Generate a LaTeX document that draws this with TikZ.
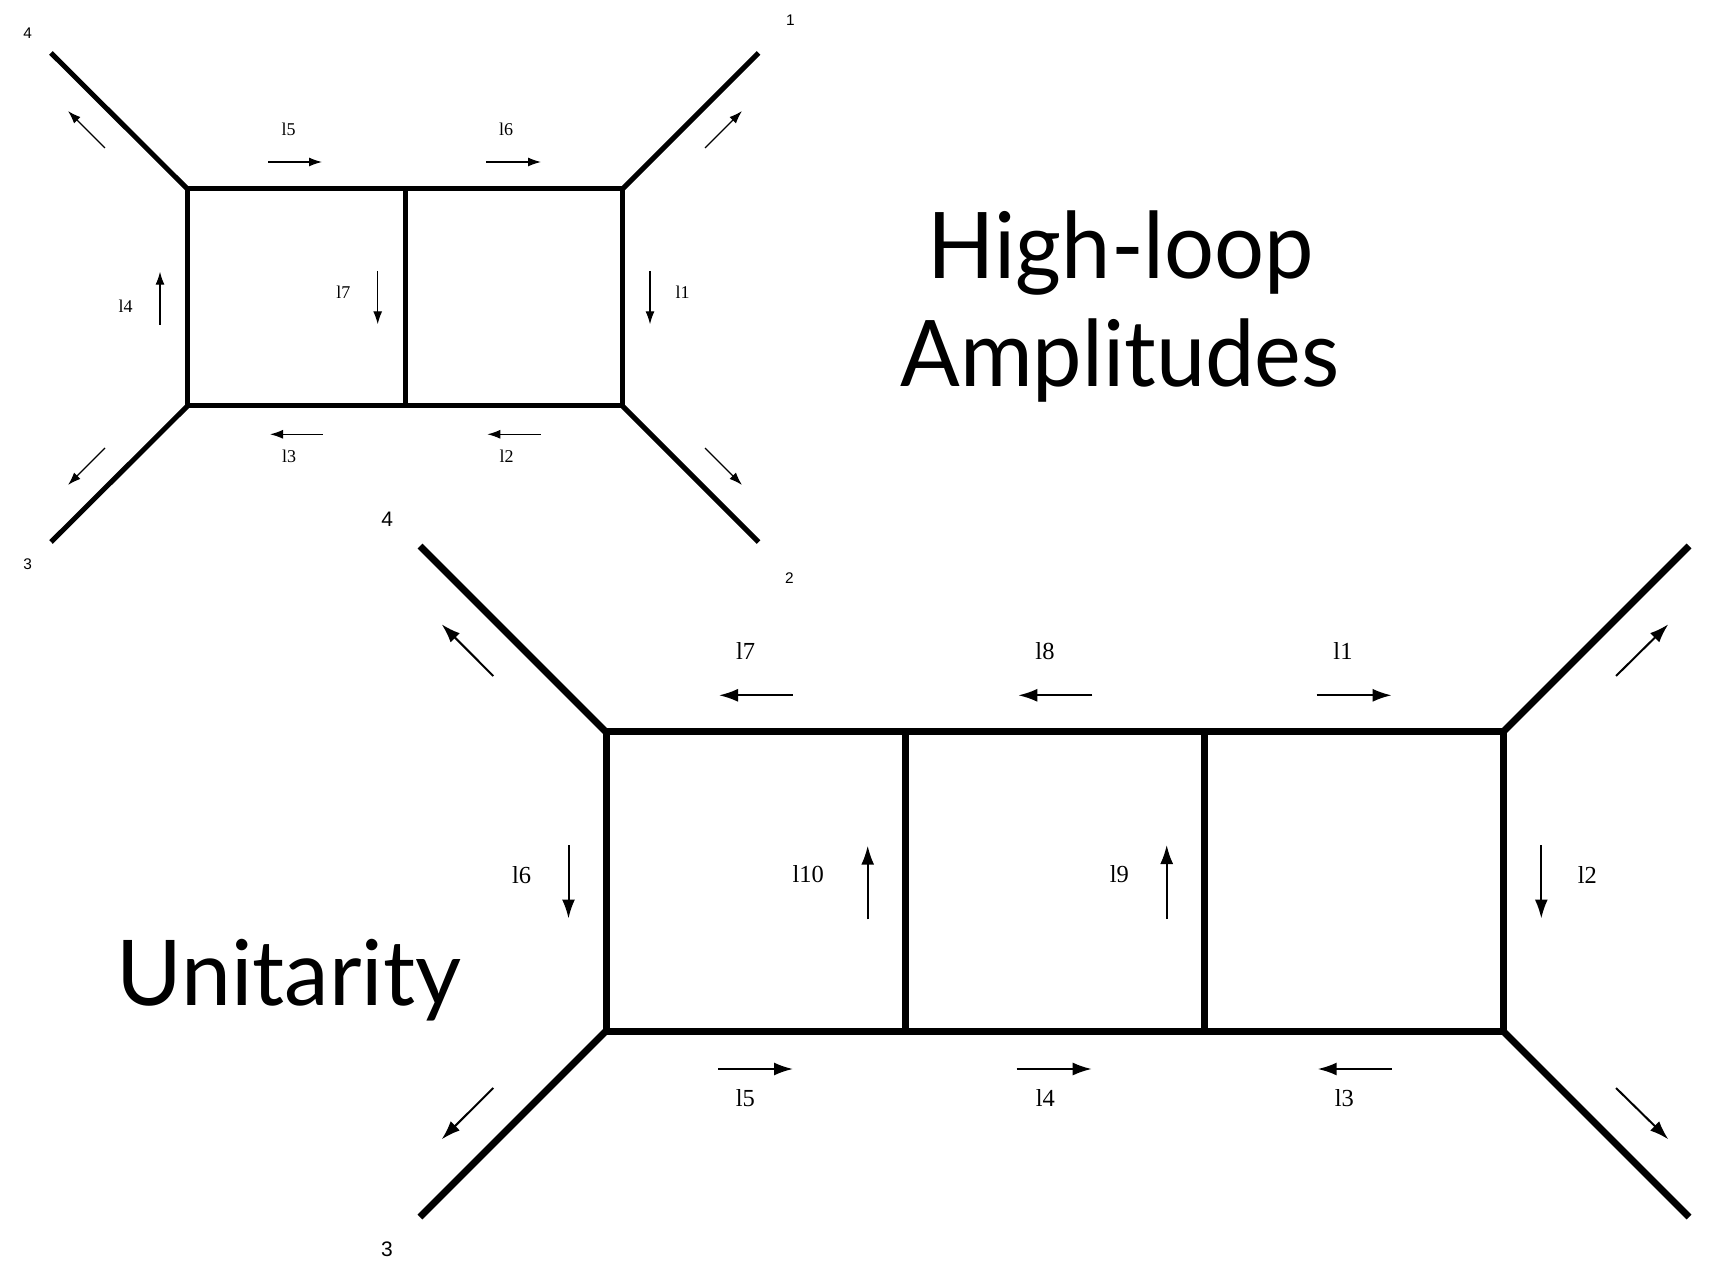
\documentclass[tikz,border=0pt]{standalone}
\usepackage{fontspec}
\setmainfont{Liberation Serif}
\newfontfamily\titlefont{Lato}
\newfontfamily\numfont{Liberation Sans}
\usetikzlibrary{arrows.meta}

\newcommand{\narrowtitle}[1]{\scalebox{0.96}[1]{#1}}

\tikzset{
  propsmall/.style={line width=2.5pt, line join=miter},
  propbig/.style={line width=3.5pt, line join=miter},
  momsmall/.style={-{Latex[length=6.5pt,width=4.5pt]}, line width=0.6pt},
  mombig/.style={-{Latex[length=9.5pt,width=6.5pt]}, line width=1pt},
  labsmall/.style={inner sep=0pt, font=\fontsize{9}{10}\selectfont},
  labbig/.style={inner sep=0pt, font=\fontsize{12.25}{14}\selectfont},
  legsmall/.style={inner sep=0pt, font=\numfont\fontsize{7.7}{9}\selectfont},
  legbig/.style={inner sep=0pt, font=\numfont\fontsize{10.5}{12}\selectfont},
  headline/.style={inner sep=0pt, anchor=base, font=\titlefont\fontsize{46}{54}\selectfont}
}

\begin{document}
\begin{tikzpicture}[x=0.5pt, y=-0.5pt]
  \useasboundingbox (0, 0) rectangle (1729, 1277);

  % two-loop box
  \coordinate (t1) at (187.5, 189);
  \coordinate (t2) at (405, 189);
  \coordinate (t3) at (622.5, 189);
  \coordinate (s1) at (187.5, 406);
  \coordinate (s2) at (405, 406);
  \coordinate (s3) at (622.5, 406);

  \coordinate (p4) at (51, 53);
  \coordinate (p1) at (758.5, 53);
  \coordinate (p3) at (51, 542);
  \coordinate (p2) at (758.5, 542);

  \node[legsmall] (n4) at (27.7, 33.3) {4};
  \node[legsmall] (n1) at (790.5, 20) {1};
  \node[legsmall] (n3) at (27.6, 564.6) {3};
  \node[legsmall] (n2) at (789.5, 577.8) {2};

  \draw[propsmall] (t1)
  -- (t3)
  -- (s3)
  -- (s1)
  -- cycle;
  \draw[propsmall] (t2)
  -- (s2);
  \draw[propsmall] (t1) -- (p4);
  \draw[propsmall] (t3) -- (p1);
  \draw[propsmall] (s1) -- (p3);
  \draw[propsmall] (s3) -- (p2);

  \draw[momsmall] (105, 148) -- (68, 111);
  \draw[momsmall] (705, 148) -- (742, 111);
  \draw[momsmall] (105, 448) -- (68, 485);
  \draw[momsmall] (705, 448) -- (742, 485);

  \draw[momsmall] (268, 162) -- (322, 162);
  \node[labsmall] (q5) at (288.7, 129) {l5};
  \draw[momsmall] (486, 162) -- (541, 162);
  \node[labsmall] (q6) at (506, 129) {l6};
  \draw[momsmall] (160, 325) -- (160, 271.7);
  \node[labsmall] (q4) at (125.7, 306.7) {l4};
  \draw[momsmall] (377.7, 271) -- (377.7, 324.3);
  \node[labsmall] (q7) at (343.3, 292.3) {l7};
  \draw[momsmall] (650, 271) -- (650, 324.3);
  \node[labsmall] (q1) at (682.7, 292.3) {l1};
  \draw[momsmall] (322.7, 434.3) -- (270, 434.3);
  \node[labsmall] (q3) at (289, 456) {l3};
  \draw[momsmall] (540.7, 434.3) -- (487.3, 434.3);
  \node[labsmall] (q2) at (506.7, 456) {l2};

  % three-loop ladder
  \coordinate (a1) at (606, 732);
  \coordinate (a2) at (905, 732);
  \coordinate (a3) at (1204, 732);
  \coordinate (a4) at (1503, 732);
  \coordinate (b1) at (606, 1031);
  \coordinate (b2) at (905, 1031);
  \coordinate (b3) at (1204, 1031);
  \coordinate (b4) at (1503, 1031);

  \coordinate (r4) at (420, 546);
  \coordinate (r1) at (1689, 546);
  \coordinate (r3) at (420, 1217);
  \coordinate (r2) at (1689, 1217);

  \node[legbig] (m4) at (387.3, 519.3) {4};
  \node[legbig] (m3) at (387, 1249.4) {3};

  \draw[propbig] (a1)
  -- (a4)
  -- (b4)
  -- (b1)
  -- cycle;
  \draw[propbig] (a2) -- (b2);
  \draw[propbig] (a3) -- (b3);
  \draw[propbig] (a1) -- (r4);
  \draw[propbig] (a4) -- (r1);
  \draw[propbig] (b1) -- (r3);
  \draw[propbig] (b4) -- (r2);

  \draw[mombig] (493.3, 676) -- (441.7, 624.3);
  \draw[mombig] (1616, 676) -- (1668.3, 624.3);
  \draw[mombig] (493.3, 1088) -- (441.7, 1139.3);
  \draw[mombig] (1616, 1088) -- (1668.3, 1139.3);

  \draw[mombig] (792.7, 695.3) -- (719, 695.3);
  \node[labbig] (k7) at (745.7, 650.7) {l7};
  \draw[mombig] (1092.3, 695.3) -- (1018.3, 695.3);
  \node[labbig] (k8) at (1045, 650.7) {l8};
  \draw[mombig] (1316.6, 695.3) -- (1391.6, 695.3);
  \node[labbig] (k1) at (1343, 650.7) {l1};

  \draw[mombig] (718, 1069) -- (793, 1069);
  \node[labbig] (k5) at (745.4, 1098.3) {l5};
  \draw[mombig] (1016.7, 1069) -- (1091.7, 1069);
  \node[labbig] (k4) at (1045.3, 1098.3) {l4};
  \draw[mombig] (1391.7, 1069) -- (1317.7, 1069);
  \node[labbig] (k3) at (1344.3, 1098.3) {l3};

  \draw[mombig] (568.5, 845) -- (568.5, 918.5);
  \node[labbig] (k6) at (521.7, 875) {l6};
  \draw[mombig] (867.7, 919.3) -- (867.7, 845.7);
  \node[labbig] (k10) at (808.3, 874) {l10};
  \draw[mombig] (1166.7, 919) -- (1166.7, 845);
  \node[labbig] (k9) at (1119.3, 874.4) {l9};
  \draw[mombig] (1541.3, 845) -- (1541.3, 918.5);
  \node[labbig] (k2) at (1587.3, 875) {l2};

  % titles
  \node[headline] (hl) at (1121, 279) {\narrowtitle{High-loop}};
  \node[headline] (amp) at (1120, 386.7) {\narrowtitle{Amplitudes}};
  \node[headline, font=\titlefont\fontsize{45.4}{54}\selectfont] (uni) at (289, 1005) {\scalebox{0.985}[1]{Unitarity}};
\end{tikzpicture}
\end{document}
